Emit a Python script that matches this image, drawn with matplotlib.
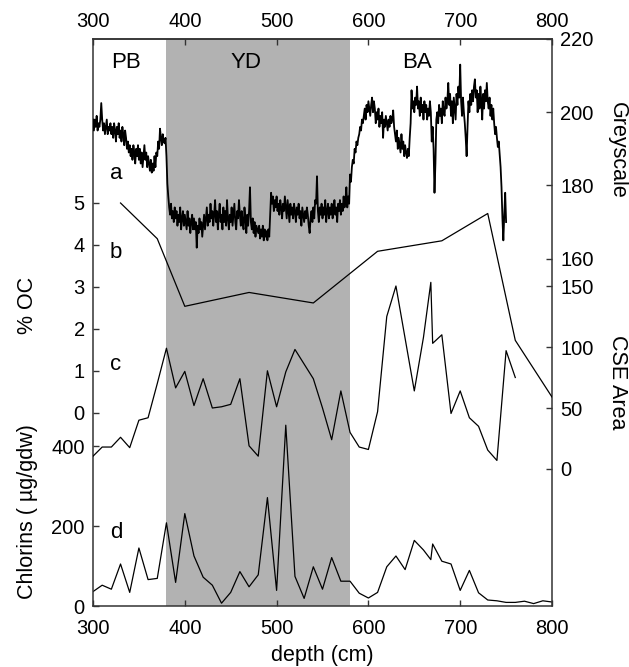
import numpy as np
import matplotlib
matplotlib.use('Agg')
import matplotlib.pyplot as plt

plt.rcParams['font.family'] = ['Liberation Sans', 'DejaVu Sans']

# ---------------- data ----------------
# a: greyscale (1 cm sampling, 300-750 cm)
grey_depth = np.arange(300, 751)
grey_vals = [
    198, 195, 198, 196, 199, 195, 197, 196, 198, 202.5,
    198, 195, 197, 194, 196, 198, 194, 196, 195, 197,
    194, 196, 193, 197, 195, 192, 196, 194, 197, 193,
    195, 192, 196, 194, 191, 195, 193, 190, 192, 189,
    191, 188, 190, 187, 191, 189, 186, 190, 188, 191,
    187, 190, 186, 189, 185, 188, 191, 187, 189, 185,
    188, 186, 184, 187, 183.5, 186, 184, 188, 185, 189,
    188, 192, 190, 195.5, 193, 191, 194, 192, 191.5, 193,
    188, 180.5, 177, 174, 172, 175, 171, 173, 170, 174,
    171, 173, 169, 172, 170, 174, 168, 171, 173, 169,
    172, 170, 168, 173, 169, 171, 167, 170, 172, 168,
    171, 168, 170, 163, 169, 167, 171, 168, 170, 166,
    169, 172, 168, 171, 174, 169, 172, 170, 175, 171,
    173, 169, 172, 176, 170, 173, 168, 172, 175, 170,
    172, 168, 174, 170, 173, 169, 176, 171, 168, 172,
    170, 174, 169, 172, 175, 170, 168, 173, 171, 176,
    172, 169, 173, 170, 168, 174, 171, 167, 172, 169,
    173, 179.5, 170, 168, 171, 167, 170, 166, 169, 168,
    167, 169, 165.5, 168, 166, 169, 165, 168, 166, 167.5,
    165, 168, 166, 172, 178, 175, 177, 173, 176, 174,
    177, 173, 175, 172, 176, 174, 171, 175, 173, 177,
    174, 171, 176, 173, 170, 175, 172, 174, 171, 175,
    173, 170, 174, 172, 175, 171, 173, 169, 174, 172,
    170, 173, 171, 174, 172, 169, 167, 171, 173, 170,
    174, 171, 176, 175, 182.5, 173, 170, 174, 172, 175,
    171, 174, 172, 176, 170, 173, 175, 171, 174, 172,
    175, 171, 173, 176, 172, 174, 170, 175, 173, 176,
    172, 175, 173, 177, 174, 176, 179.5, 174, 177, 175,
    183, 181, 185, 187, 186, 190, 189, 192, 191, 193,
    194, 196, 195, 198, 197, 199, 201, 198, 202, 200,
    203, 201, 199, 202, 204, 200, 203, 201, 197, 200,
    198, 201, 196, 199, 197, 200, 193, 198, 196, 199,
    197, 195, 198, 196, 199, 197, 198, 200.5, 196, 194,
    192, 195, 190, 193, 191, 189, 194, 190, 192, 188,
    191, 189, 187.5, 190, 188, 193, 197, 206, 201, 203,
    200, 204, 202, 207, 201, 203, 199, 204, 200, 202,
    198, 203, 200, 202, 198, 201, 199, 203, 200, 192,
    196, 190, 178, 186, 198, 200, 197, 202, 199, 201,
    197, 203, 200, 199, 204, 201, 203, 208, 202, 205,
    199, 203, 197, 204, 201, 198, 205, 202, 207, 204,
    213, 203, 199, 204, 200, 197, 193, 188, 196, 203,
    200, 205, 202, 206, 203, 207, 209, 204, 206, 200,
    205, 201, 207, 203, 198, 205, 201, 206, 203, 208,
    203, 201, 204, 199, 202, 198, 201, 197, 194, 196,
    193, 190.5, 192, 188.7, 185, 179.5, 171, 165, 172, 178,
    170,
]

# b: % organic carbon
oc_depth = [330, 370, 400, 470, 540, 610, 680, 730, 760, 800]
oc_vals = [5.0, 4.15, 2.54, 2.87, 2.62, 3.85, 4.1, 4.75, 1.73, 0.38]

# c: CSE area
cse_depth = [300, 310, 320, 330, 340, 350, 360, 370, 380, 390, 400, 410, 420,
             430, 440, 450, 460, 470, 480, 490, 500, 510, 520, 530, 540, 550,
             560, 570, 580, 590, 600, 610, 620, 630, 640, 650, 660, 668, 670,
             680, 690, 700, 710, 720, 730, 740, 750, 760]
cse_vals = [10.5, 18, 18, 26, 17.5, 40, 42, 70, 99, 66.5, 80, 52, 74,
            50, 51, 53, 74, 19, 10.5, 80.5, 51, 79.6, 98, 86, 74, 50,
            24, 64, 30, 18, 16, 47, 125, 150, 107, 64, 108, 153, 103,
            110, 45.5, 64, 42, 35, 15.5, 7, 97, 75]

# d: chlorins
chl_depth = [300, 310, 320, 330, 340, 350, 360, 370, 380, 390, 400, 410, 420,
             430, 440, 450, 460, 470, 480, 490, 500, 510, 520, 530, 540, 550,
             560, 570, 580, 590, 600, 610, 620, 630, 640, 650, 660, 668, 670,
             680, 690, 700, 710, 720, 730, 740, 750, 760, 770, 780, 790, 800]
chl_vals = [36, 52, 42, 105, 34, 145, 66, 69, 208, 59, 231, 125, 72,
            52, 7, 34, 86, 48, 78, 271, 39, 452, 74, 19, 98, 42,
            121, 62, 62, 32, 20, 34, 98, 125, 91, 164, 140, 116, 155,
            112, 105, 39, 89, 33, 15, 13, 9, 9, 12, 6, 13, 10]

period_labels = ['PB', 'YD', 'BA']
period_pos = [336, 467, 653]
yd_span = (380, 580)
x_ticks = [300, 400, 500, 600, 700, 800]

# ---------------- layout ----------------
W, H = 629, 667
fig = plt.figure(figsize=(W / 100, H / 100), dpi=100)
L, R, T, B = 93, 552, 39, 606
rect = [L / W, 1 - B / H, (R - L) / W, (B - T) / H]


def lims(v1, y1, v2, y2):
    s = (v2 - v1) / (y1 - y2)
    return v1 - (B - y1) * s, v1 + (y1 - T) * s


FS = 14.5
tick_kw = dict(direction='in', length=4, width=1, color='#333333',
               labelsize=FS, pad=6)

ax_d = fig.add_axes(rect)
ax_d.set_xlim(300, 800)
ax_d.set_ylim(*lims(0, 606, 400, 446))
ax_d.axvspan(*yd_span, color='#b2b2b2', lw=0, zorder=0)
ax_d.plot(chl_depth, chl_vals, color='black', lw=0.9)
ax_d.set_yticks([0, 200, 400])
ax_d.set_xticks(x_ticks)
ax_d.tick_params(axis='both', **tick_kw)
ax_d.tick_params(axis='x', pad=9)
for sp in ax_d.spines.values():
    sp.set_color('#333333')
    sp.set_linewidth(1.1)

top = ax_d.secondary_xaxis('top')
top.set_xticks(x_ticks)
top.tick_params(axis='x', **tick_kw)
top.spines['top'].set_color('#333333')
top.spines['top'].set_linewidth(1.1)

ax_c = fig.add_axes(rect, sharex=ax_d)
ax_c.patch.set_alpha(0)
ax_c.set_frame_on(False)
ax_c.plot(cse_depth, cse_vals, color='black', lw=0.9)
ax_c.set_ylim(*lims(0, 469, 150, 286))
ax_c.set_yticks([0, 50, 100, 150])
ax_c.yaxis.tick_right()
ax_c.xaxis.set_visible(False)
ax_c.tick_params(axis='y', **tick_kw)

ax_b = fig.add_axes(rect, sharex=ax_d)
ax_b.patch.set_alpha(0)
ax_b.set_frame_on(False)
ax_b.plot(oc_depth, oc_vals, color='black', lw=0.9)
ax_b.set_ylim(*lims(0, 413, 5, 203))
ax_b.set_yticks([0, 1, 2, 3, 4, 5])
ax_b.xaxis.set_visible(False)
ax_b.tick_params(axis='y', **tick_kw)

ax_a = fig.add_axes(rect, sharex=ax_d)
ax_a.patch.set_alpha(0)
ax_a.set_frame_on(False)
ax_a.plot(grey_depth, grey_vals, color='black', lw=1.3)
ax_a.set_ylim(*lims(160, 258.3, 200, 111.7))
ax_a.set_yticks([160, 180, 200, 220])
ax_a.yaxis.tick_right()
ax_a.xaxis.set_visible(False)
ax_a.tick_params(axis='y', **tick_kw)

ax_d.set_xlim(300, 800)

# period labels
for lab, xp in zip(period_labels, period_pos):
    ax_d.text(xp, 1 - (63 - T) / (B - T), lab, transform=ax_d.get_xaxis_transform(),
              ha='center', va='center', fontsize=16)

# panel letters
def ftext(x, y, s, **kw):
    fig.text(x / W, 1 - y / H, s, **kw)

for s, yy in zip(['a', 'b', 'c', 'd'], [173, 253, 365, 533]):
    ftext(116, yy, s, ha='center', va='center', fontsize=16)

ftext(28, 305, '% OC', rotation=90, ha='center', va='center', fontsize=15.5)
ftext(28, 512, 'Chlorins ( \u00b5g/gdw)', rotation=90, ha='center', va='center', fontsize=15.5)
ftext(617, 150, 'Greyscale', rotation=270, ha='center', va='center', fontsize=15.5)
ftext(617, 382, 'CSE Area', rotation=270, ha='center', va='center', fontsize=15.5)
ftext(322, 656, 'depth (cm)', ha='center', va='center', fontsize=15.5)

fig.savefig('out.png', dpi=100)
